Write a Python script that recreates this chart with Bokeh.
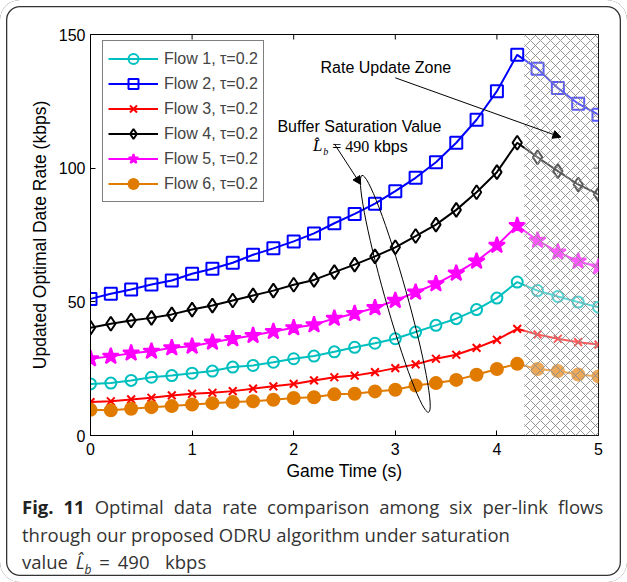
import math
from bokeh.plotting import figure
from bokeh.layouts import column
from bokeh.models import (FixedTicker, Legend, LegendItem, Label, Div,
                          Arrow, NormalHead, BoxAnnotation, Range1d)
from bokeh.embed import file_html
from bokeh.resources import INLINE

# ---------------- data ----------------
t = [0.0, 0.2, 0.4, 0.6, 0.8, 1.0, 1.2, 1.4, 1.6, 1.8, 2.0, 2.2, 2.4,
     2.6, 2.8, 3.0, 3.2, 3.4, 3.6, 3.8, 4.0, 4.2, 4.4, 4.6, 4.8, 5.0]

flow1 = [19.3, 19.6, 20.6, 21.8, 22.4, 23.3, 24.1, 25.6, 26.2, 27.4, 28.7, 29.7, 31.3,
         33.0, 34.5, 36.2, 38.7, 41.2, 43.7, 47.1, 51.4, 57.4, 54.2, 52.0, 49.9, 48.0]
flow2 = [51.1, 53.0, 54.6, 56.5, 58.0, 60.5, 62.4, 64.6, 67.6, 70.0, 72.6, 75.6, 79.4,
         82.9, 86.7, 91.4, 96.4, 102.2, 109.5, 118.1, 128.8, 142.4, 137.2, 130.0, 124.1, 120.0]
flow3 = [12.5, 12.8, 13.5, 14.1, 15.0, 15.6, 16.0, 16.6, 17.5, 18.4, 19.3, 20.6, 21.8,
         22.4, 23.7, 25.2, 26.6, 28.7, 30.2, 32.8, 35.8, 39.9, 37.8, 36.2, 34.9, 34.0]
flow4 = [40.3, 41.8, 43.0, 44.0, 45.3, 47.1, 48.6, 50.5, 52.4, 54.2, 56.4, 58.2, 61.1,
         63.9, 67.0, 70.4, 74.6, 78.9, 84.4, 91.0, 98.5, 109.5, 104.1, 98.9, 93.9, 90.2]
flow5 = [28.7, 29.6, 30.8, 31.5, 32.8, 33.4, 34.9, 36.2, 37.4, 38.9, 40.3, 41.4, 43.8,
         45.6, 47.8, 50.5, 53.6, 56.7, 60.7, 65.2, 71.1, 78.5, 73.0, 68.6, 65.2, 63.0]
flow6 = [9.6, 9.4, 10.0, 10.6, 11.0, 11.6, 12.1, 12.5, 12.8, 13.4, 14.0, 14.3, 15.4,
         15.6, 16.5, 17.1, 18.7, 19.6, 20.8, 22.7, 24.9, 26.8, 24.9, 24.1, 22.8, 22.1]

labels = ["Flow 1, \u03c4=0.2", "Flow 2, \u03c4=0.2", "Flow 3, \u03c4=0.2",
          "Flow 4, \u03c4=0.2", "Flow 5, \u03c4=0.2", "Flow 6, \u03c4=0.2"]
x_ticks = [0, 1, 2, 3, 4, 5]
y_ticks = [0, 50, 100, 150]
x_min, x_max = 0, 5
y_min, y_max = 0, 150
zone_start = 4.27
zone_end = 5.0

# ---------------- styles ----------------
series = [
    (flow1, "#00BFBF", "circle", 11, None),
    (flow2, "#0000FF", "square", 12, None),
    (flow3, "#FF0000", "x", 11, None),
    (flow4, "#000000", "diamond", 14, None),
    (flow5, "#FF00FF", "star", 17, "#FF00FF"),
    (flow6, "#E07B00", "circle", 12, "#E07B00"),
]

SANS = "Liberation Sans"
SERIF = "Liberation Serif"

p = figure(width=627, height=490, output_backend="svg", toolbar_location=None,
           x_range=Range1d(x_min, x_max), y_range=Range1d(y_min, y_max),
           min_border_left=90, min_border_right=29, min_border_top=34,
           min_border_bottom=55)
p.grid.visible = False
p.outline_line_color = "black"
p.outline_line_width = 1
p.background_fill_color = "white"
p.border_fill_color = None

for ax in (p.xaxis[0], p.yaxis[0]):
    ax.major_tick_in = 5
    ax.major_tick_out = 0
    ax.minor_tick_line_color = None
    ax.axis_line_width = 1
    ax.major_label_text_font = SANS
    ax.major_label_text_font_size = "16px"
    ax.major_label_text_color = "black"
    ax.axis_label_text_font = SANS
    ax.axis_label_text_font_size = "17.5px"
    ax.axis_label_text_font_style = "normal"
    ax.axis_label_text_color = "black"

p.xaxis.ticker = FixedTicker(ticks=x_ticks)
p.yaxis.ticker = FixedTicker(ticks=y_ticks)
p.xaxis.axis_label = "Game Time (s)"
p.yaxis.axis_label = "Updated Optimal Date Rate (kbps)"
p.xaxis.major_label_standoff = 7
p.yaxis.major_label_standoff = 5
p.xaxis.axis_label_standoff = 3
p.yaxis.axis_label_standoff = 6

# inward ticks on the top and right sides of the box
p.ray(x=x_ticks, y=[y_max] * len(x_ticks), length=5, length_units="screen",
      angle=-math.pi / 2, line_color="black", line_width=1)
p.ray(x=[x_max] * len(y_ticks), y=y_ticks, length=5, length_units="screen",
      angle=math.pi, line_color="black", line_width=1)

items = []
for (vals, col, mk, sz, fill), lab in zip(series, labels):
    r1 = p.line(t, vals, line_color=col, line_width=2)
    r2 = p.scatter(t, vals, marker=mk, size=sz, line_color=col, line_width=2,
                   fill_color=fill if fill else None)
    items.append(LegendItem(label=lab, renderers=[r1, r2]))

legend = Legend(items=items, location=(12, 233), margin=0,
                label_text_font=SANS, label_text_font_size="16px",
                glyph_width=50, glyph_height=25, label_height=25, spacing=0,
                padding=5, label_standoff=6,
                border_line_color="black", border_line_width=1,
                background_fill_color="white", background_fill_alpha=1)
p.add_layout(legend, "center")

# hatched "rate update zone"
zone = BoxAnnotation(left=zone_start, right=zone_end, fill_color="white", fill_alpha=0.35,
                     hatch_pattern="x", hatch_color="#8a8a8a", hatch_scale=10,
                     hatch_weight=1, hatch_alpha=0.9, line_color=None)
p.add_layout(zone)

# ellipse annotation
p.ellipse(x=[3.0], y=[53.0], width=[22], height=[246], width_units="screen",
          height_units="screen", angle=[0.274], fill_color=None,
          line_color="black", line_width=1)

# arrows
p.add_layout(Arrow(end=NormalHead(size=8, fill_color="black", line_color="black"),
                   x_start=3.0, y_start=133.8, x_end=4.63, y_end=111.6,
                   line_color="black", line_width=1))
p.add_layout(Arrow(end=NormalHead(size=8, fill_color="black", line_color="black"),
                   x_start=2.40, y_start=109.1, x_end=2.66, y_end=93.9,
                   line_color="black", line_width=1))

def lab(x, y, text, font=SANS, size="16px", style="normal", color="black"):
    p.add_layout(Label(x=x, y=y, text=text, text_font=font, text_font_size=size,
                       text_font_style=style, text_color=color,
                       text_baseline="middle", text_align="left"))

lab(2.264, 137.7, "Rate Update Zone")
lab(1.84, 115.6, "Buffer Saturation Value")
lab(2.19, 108.3, "L\u0302", font=SERIF, size="17px", style="italic")
lab(2.29, 106.2, "b", font=SERIF, size="10px", style="italic")
lab(2.38, 108.1, "= 490", font=SERIF, size="16px")
lab(2.79, 108.1, "kbps", font=SANS, size="16px")

caption_html = (
    '<div style="font-family:\'Open Sans\';font-size:18.5px;line-height:27.5px;'
    'color:#333;white-space:nowrap;padding:3px 0 0 22px;">'
    '<span style="word-spacing:5.2px"><b style="color:#222">Fig. 11</b> Optimal data rate '
    'comparison among six per-link flows</span><br>'
    'through our proposed ODRU algorithm under saturation<br>'
    '<span style="word-spacing:3px">value <i>L\u0302<sub style="font-size:12px">b</sub></i> '
    '= 490&nbsp; kbps</span>'
    '</div>'
)
cap = Div(text=caption_html, width=627, height=92, margin=0)

layout = column(p, cap, spacing=0, width=627, height=582,
                styles={"box-shadow": "inset 0 0 0 6px white, inset 0 0 0 7.3px #333",
                        "border-radius": "20px", "background": "white"})

open("out.html", "w").write(file_html(layout, INLINE))
